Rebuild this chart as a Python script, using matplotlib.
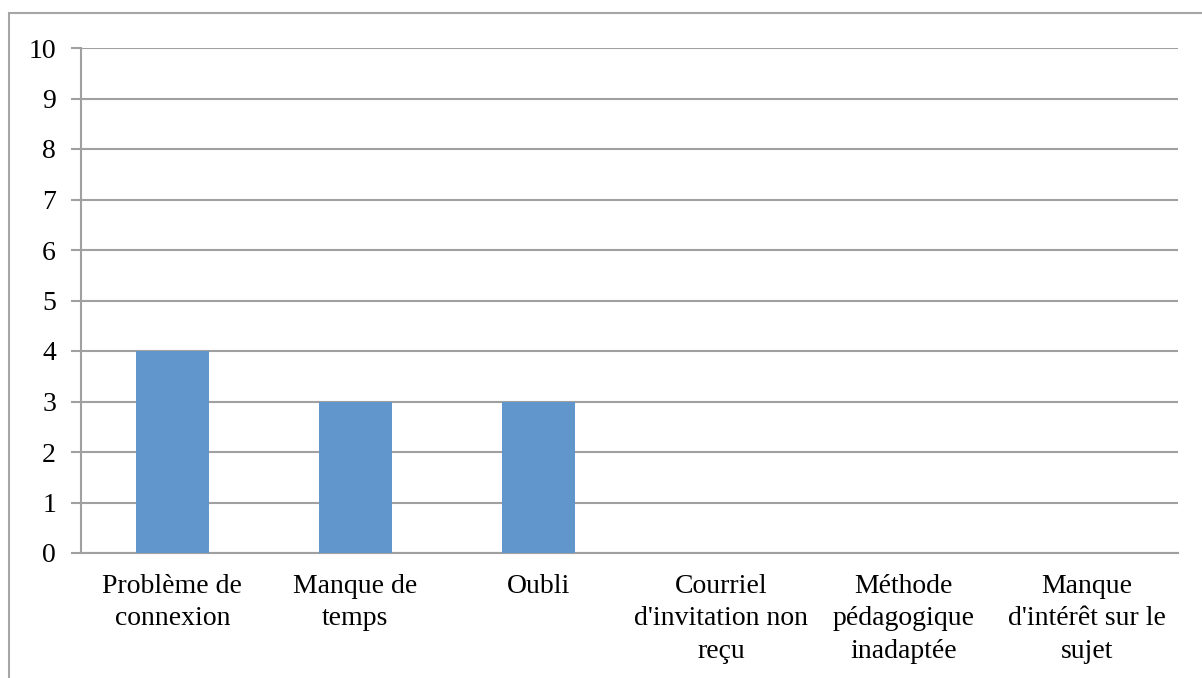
import matplotlib
matplotlib.use("Agg")
import matplotlib.pyplot as plt
from matplotlib.patches import Rectangle

categories = [
    "Problème de\nconnexion",
    "Manque de\ntemps",
    "Oubli",
    "Courriel\nd'invitation non\nreçu",
    "Méthode\npédagogique\ninadaptée",
    "Manque\nd'intérêt sur le\nsujet",
]
values = [4, 3, 3, 0, 0, 0]
y_ticks = list(range(0, 11))

W, H = 1202, 678
fig = plt.figure(figsize=(W / 100, H / 100), dpi=100)
plt.rcParams["font.family"] = ["Liberation Serif", "DejaVu Serif"]

# outer chart frame (runs off the right and bottom edges)
fig.patches.append(Rectangle((9 / W, -0.05), 1.5, 1 - 13 / H + 0.05,
                             transform=fig.transFigure, fill=False,
                             edgecolor="#A6A6A6", linewidth=1.5))

ax = fig.add_axes([81 / W, 1 - 553 / H, (1178 - 81) / W, (553 - 48) / H])
grid_col = "#A0A0A0"
x = list(range(len(categories)))
ax.bar(x, values, width=0.4, color="#6096CB", zorder=3)
ax.set_xlim(-0.5, len(categories) - 0.5)
ax.set_ylim(0, 10)
ax.set_yticks(y_ticks)
ax.set_yticklabels([str(t) for t in y_ticks], fontsize=20)
ax.yaxis.grid(True, color=grid_col, linewidth=1.5, zorder=0)
ax.set_xticks(x)
ax.set_xticklabels(categories, fontsize=20, linespacing=1.4)
ax.tick_params(axis="x", length=0, pad=15)
ax.tick_params(axis="y", length=7, width=1.5, color=grid_col, pad=11)
for s in ["top", "right"]:
    ax.spines[s].set_visible(False)
ax.spines["left"].set_color(grid_col)
ax.spines["left"].set_linewidth(1.5)
ax.spines["bottom"].set_color(grid_col)
ax.spines["bottom"].set_linewidth(1.5)

fig.savefig("out.png", dpi=100)
